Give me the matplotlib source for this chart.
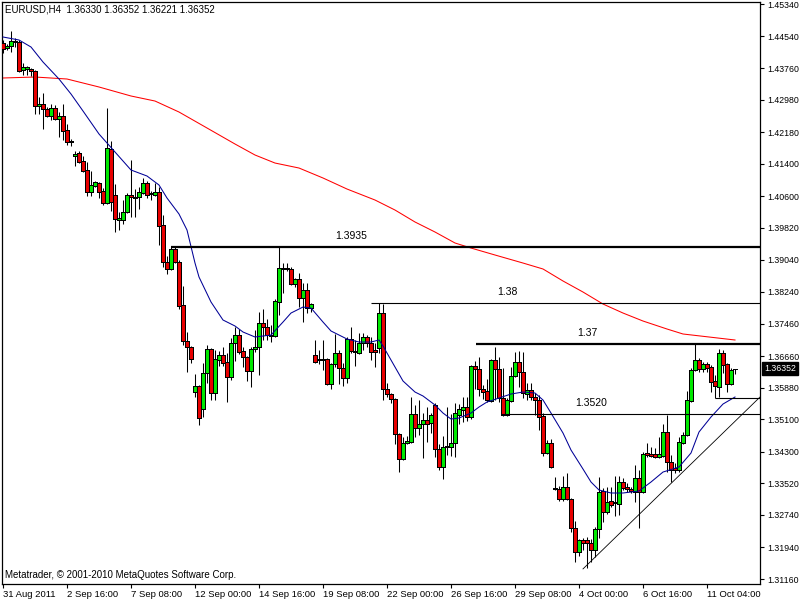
import matplotlib.pyplot as plt
import numpy as np

plt.rcParams['font.family'] = ['Liberation Sans', 'DejaVu Sans']

# EURUSD H4, 31 Aug 2011 .. 11 Oct 2011, one value per candle
opens = [1.4438, 1.4425, 1.4430, 1.4443, 1.4440, 1.4372, 1.4374, 1.4374, 1.4369, 1.4283,
         1.4288, 1.4275, 1.4257, 1.4278, 1.4251, 1.4257, 1.4224, 1.4196, 1.4159, 1.4167,
         1.4147, 1.4124, 1.4071, 1.4086, 1.4093, 1.4073, 1.4043, 1.4177, 1.4063, 1.4002,
         1.4002, 1.4021, 1.4063, 1.4058, 1.4058, 1.4068, 1.4093, 1.4068, 1.4063, 1.4071,
         1.3989, 1.3897, 1.3880, 1.3930, 1.3897, 1.3792, 1.3703, 1.3688, 1.3577, 1.3591,
         1.3535, 1.3624, 1.3683, 1.3575, 1.3656, 1.3668, 1.3651, 1.3614, 1.3698, 1.3718,
         1.3678, 1.3663, 1.3629, 1.3683, 1.3688, 1.3747, 1.3737, 1.3715, 1.3715, 1.3799,
         1.3883, 1.3883, 1.3880, 1.3843, 1.3856, 1.3808, 1.3828, 1.3784, 1.3668, 1.3659,
         1.3656, 1.3659, 1.3596, 1.3646, 1.3673, 1.3636, 1.3611, 1.3708, 1.3678, 1.3673,
         1.3698, 1.3713, 1.3698, 1.3680, 1.3685, 1.3772, 1.3584, 1.3572, 1.3560, 1.3473,
         1.3412, 1.3451, 1.3454, 1.3522, 1.3489, 1.3498, 1.3507, 1.3501, 1.3545, 1.3436,
         1.3392, 1.3441, 1.3441, 1.3451, 1.3520, 1.3532, 1.3540, 1.3515, 1.3641, 1.3634,
         1.3584, 1.3579, 1.3555, 1.3656, 1.3634, 1.3562, 1.3520, 1.3555, 1.3616, 1.3651,
         1.3626, 1.3572, 1.3582, 1.3565, 1.3557, 1.3517, 1.3427, 1.3451, 1.3341, 1.3338,
         1.3313, 1.3343, 1.3313, 1.3241, 1.3183, 1.3212, 1.3212, 1.3205, 1.3188, 1.3239,
         1.3333, 1.3281, 1.3308, 1.3303, 1.3301, 1.3356, 1.3343, 1.3338, 1.3331, 1.3365,
         1.3331, 1.3427, 1.3425, 1.3425, 1.3417, 1.3420, 1.3478, 1.3405, 1.3390, 1.3385,
         1.3451, 1.3471, 1.3555, 1.3631, 1.3656, 1.3634, 1.3646, 1.3639, 1.3604, 1.3589,
         1.3673, 1.3646, 1.3596, 1.3633]
highs = [1.4445, 1.4435, 1.4468, 1.4450, 1.4445, 1.4389, 1.4381, 1.4377, 1.4372, 1.4305,
         1.4315, 1.4280, 1.4288, 1.4285, 1.4268, 1.4288, 1.4238, 1.4201, 1.4172, 1.4172,
         1.4159, 1.4144, 1.4122, 1.4098, 1.4096, 1.4081, 1.4278, 1.4197, 1.4091, 1.4021,
         1.4051, 1.4068, 1.4149, 1.4078, 1.4083, 1.4105, 1.4098, 1.4073, 1.4093, 1.4083,
         1.4014, 1.3912, 1.3934, 1.3935, 1.3902, 1.3838, 1.3725, 1.3690, 1.3621, 1.3594,
         1.3649, 1.3693, 1.3685, 1.3680, 1.3678, 1.3688, 1.3673, 1.3710, 1.3737, 1.3732,
         1.3688, 1.3666, 1.3688, 1.3730, 1.3774, 1.3782, 1.3757, 1.3742, 1.3806, 1.3935,
         1.3895, 1.3895, 1.3885, 1.3858, 1.3871, 1.3846, 1.3846, 1.3797, 1.3705, 1.3680,
         1.3705, 1.3661, 1.3649, 1.3720, 1.3680, 1.3649, 1.3713, 1.3737, 1.3705, 1.3723,
         1.3723, 1.3718, 1.3713, 1.3698, 1.3797, 1.3794, 1.3599, 1.3575, 1.3562, 1.3476,
         1.3466, 1.3468, 1.3565, 1.3545, 1.3557, 1.3525, 1.3540, 1.3525, 1.3550, 1.3449,
         1.3468, 1.3540, 1.3522, 1.3550, 1.3547, 1.3565, 1.3565, 1.3644, 1.3654, 1.3663,
         1.3594, 1.3609, 1.3659, 1.3688, 1.3663, 1.3636, 1.3562, 1.3639, 1.3675, 1.3678,
         1.3675, 1.3599, 1.3599, 1.3575, 1.3570, 1.3525, 1.3458, 1.3461, 1.3367, 1.3346,
         1.3370, 1.3377, 1.3315, 1.3259, 1.3215, 1.3217, 1.3220, 1.3215, 1.3244, 1.3367,
         1.3341, 1.3343, 1.3343, 1.3370, 1.3370, 1.3365, 1.3353, 1.3343, 1.3397, 1.3385,
         1.3430, 1.3451, 1.3441, 1.3439, 1.3466, 1.3498, 1.3520, 1.3422, 1.3402, 1.3466,
         1.3478, 1.3580, 1.3636, 1.3696, 1.3661, 1.3651, 1.3651, 1.3644, 1.3619, 1.3683,
         1.3680, 1.3649, 1.3636, 1.36352]
lows = [1.4413, 1.4420, 1.4415, 1.4428, 1.4367, 1.4359, 1.4359, 1.4357, 1.4263, 1.4263,
        1.4226, 1.4255, 1.4249, 1.4249, 1.4206, 1.4199, 1.4186, 1.4184, 1.4134, 1.4142,
        1.4119, 1.4061, 1.4061, 1.4083, 1.4056, 1.4038, 1.4041, 1.4024, 1.3972, 1.3977,
        1.3992, 1.4019, 1.4009, 1.4009, 1.4029, 1.4066, 1.4056, 1.4051, 1.4061, 1.3940,
        1.3885, 1.3868, 1.3877, 1.3895, 1.3782, 1.3693, 1.3626, 1.3649, 1.3565, 1.3496,
        1.3515, 1.3599, 1.3557, 1.3557, 1.3641, 1.3641, 1.3552, 1.3606, 1.3654, 1.3670,
        1.3639, 1.3604, 1.3589, 1.3675, 1.3619, 1.3705, 1.3705, 1.3700, 1.3713, 1.3767,
        1.3821, 1.3876, 1.3841, 1.3836, 1.3787, 1.3749, 1.3772, 1.3774, 1.3649, 1.3646,
        1.3631, 1.3594, 1.3584, 1.3639, 1.3596, 1.3591, 1.3599, 1.3673, 1.3641, 1.3670,
        1.3680, 1.3688, 1.3656, 1.3639, 1.3673, 1.3557, 1.3565, 1.3550, 1.3449, 1.3380,
        1.3410, 1.3449, 1.3451, 1.3466, 1.3471, 1.3415, 1.3454, 1.3476, 1.3417, 1.3385,
        1.3362, 1.3422, 1.3420, 1.3417, 1.3498, 1.3503, 1.3505, 1.3510, 1.3584, 1.3567,
        1.3560, 1.3552, 1.3552, 1.3557, 1.3552, 1.3517, 1.3517, 1.3552, 1.3614, 1.3589,
        1.3562, 1.3557, 1.3557, 1.3520, 1.3484, 1.3420, 1.3425, 1.3390, 1.3336, 1.3308,
        1.3308, 1.3311, 1.3232, 1.3157, 1.3173, 1.3188, 1.3143, 1.3157, 1.3170, 1.3217,
        1.3257, 1.3276, 1.3293, 1.3271, 1.3274, 1.3336, 1.3331, 1.3328, 1.3306, 1.3241,
        1.3328, 1.3417, 1.3417, 1.3415, 1.3415, 1.3417, 1.3380, 1.3356, 1.3377, 1.3380,
        1.3449, 1.3468, 1.3552, 1.3629, 1.3626, 1.3626, 1.3626, 1.3577, 1.3562, 1.3565,
        1.3624, 1.3577, 1.3594, 1.36221]
closes = [1.4423, 1.4430, 1.4443, 1.4440, 1.4369, 1.4379, 1.4379, 1.4369, 1.4283, 1.4288,
          1.4275, 1.4257, 1.4278, 1.4251, 1.4257, 1.4221, 1.4194, 1.4194, 1.4164, 1.4144,
          1.4122, 1.4071, 1.4088, 1.4096, 1.4071, 1.4043, 1.4179, 1.4046, 1.4004, 1.4007,
          1.4021, 1.4063, 1.4058, 1.4056, 1.4071, 1.4093, 1.4063, 1.4066, 1.4071, 1.3987,
          1.3897, 1.3880, 1.3930, 1.3897, 1.3789, 1.3703, 1.3688, 1.3659, 1.3591, 1.3512,
          1.3624, 1.3683, 1.3575, 1.3659, 1.3668, 1.3649, 1.3614, 1.3698, 1.3718, 1.3675,
          1.3663, 1.3629, 1.3683, 1.3688, 1.3747, 1.3737, 1.3718, 1.3718, 1.3802, 1.3883,
          1.3880, 1.3880, 1.3843, 1.3856, 1.3808, 1.3828, 1.3784, 1.3794, 1.3651, 1.3656,
          1.3659, 1.3596, 1.3646, 1.3673, 1.3636, 1.3611, 1.3708, 1.3678, 1.3675, 1.3698,
          1.3713, 1.3698, 1.3675, 1.3675, 1.3772, 1.3584, 1.3572, 1.3560, 1.3473, 1.3412,
          1.3451, 1.3456, 1.3522, 1.3489, 1.3498, 1.3507, 1.3498, 1.3520, 1.3436, 1.3392,
          1.3441, 1.3444, 1.3451, 1.3525, 1.3535, 1.3540, 1.3515, 1.3641, 1.3634, 1.3584,
          1.3577, 1.3557, 1.3656, 1.3634, 1.3562, 1.3520, 1.3557, 1.3616, 1.3651, 1.3626,
          1.3575, 1.3582, 1.3565, 1.3557, 1.3515, 1.3427, 1.3451, 1.3392, 1.3338, 1.3313,
          1.3343, 1.3313, 1.3241, 1.3183, 1.3212, 1.3205, 1.3205, 1.3188, 1.3239, 1.3331,
          1.3281, 1.3306, 1.3298, 1.3306, 1.3356, 1.3341, 1.3338, 1.3333, 1.3365, 1.3331,
          1.3425, 1.3422, 1.3420, 1.3417, 1.3425, 1.3478, 1.3405, 1.3385, 1.3385, 1.3454,
          1.3471, 1.3557, 1.3631, 1.3656, 1.3634, 1.3646, 1.3636, 1.3601, 1.3591, 1.3673,
          1.3644, 1.3596, 1.3631, 1.36352]

# moving averages (candle index, price)
fast_ma_idx = [0, 4, 7, 10, 14, 17, 20, 24, 26, 28, 32, 36, 39, 41, 44, 46, 48, 49, 52, 55,
               58, 60, 63, 65, 67, 70, 72, 75, 77, 80, 82, 86, 89, 92, 94, 95, 98, 100, 103, 105,
               108, 110, 112, 114, 117, 119, 121, 124, 127, 130, 133, 135, 137, 140, 142, 145, 147, 149, 152, 155,
               159, 162, 165, 169, 172, 174, 177, 180, 183]
fast_ma = [1.44527, 1.44453, 1.44280, 1.43910, 1.43491, 1.43121, 1.42702, 1.42135, 1.41913, 1.41691,
           1.41247, 1.41099, 1.40877, 1.40556, 1.40162, 1.39767, 1.38953, 1.38608, 1.37992, 1.37548,
           1.37400, 1.37252, 1.37129, 1.37153, 1.37178, 1.37498, 1.37720, 1.37868, 1.37844, 1.37498,
           1.37277, 1.37079, 1.37005, 1.37005, 1.37055, 1.36907, 1.36389, 1.36044, 1.35772, 1.35674,
           1.35452, 1.35254, 1.35106, 1.35131, 1.35254, 1.35402, 1.35526, 1.35624, 1.35723, 1.35772,
           1.35748, 1.35575, 1.35254, 1.34761, 1.34342, 1.33873, 1.33553, 1.33356, 1.33282, 1.33282,
           1.33331, 1.33553, 1.33799, 1.33923, 1.34268, 1.34786, 1.35156, 1.35476, 1.35649]
slow_ma_idx = [0, 8, 16, 24, 32, 38, 44, 51, 58, 63, 68, 74, 80, 86, 93, 98, 103, 108, 113, 117,
               123, 130, 135, 140, 145, 150, 155, 160, 166, 170, 183]
slow_ma = [1.43516, 1.43540, 1.43491, 1.43294, 1.43072, 1.42948, 1.42677, 1.42283, 1.41888, 1.41617,
           1.41419, 1.41296, 1.41050, 1.40778, 1.40507, 1.40260, 1.39965, 1.39718, 1.39447, 1.39323,
           1.39151, 1.38953, 1.38806, 1.38510, 1.38238, 1.37942, 1.37720, 1.37523, 1.37326, 1.37203,
           1.37055]

# drawn objects
level_prices = [1.3934, 1.3797, 1.3696, 1.3523]
level_start = [42, 92, 118.2, 124.6]
level_labels = ['1.3935', '1.38', '1.37', '1.3520']
level_label_idx = [87, 126, 146, 147]
level_thick = [True, False, True, False]
box_start, box_price = 178, 1.3562
trend_idx = [145, 190]
trend_price = [1.3141, 1.3572]

price_ticks = [1.45340, 1.44540, 1.43760, 1.42980, 1.42180, 1.41400, 1.40600, 1.39820, 1.39040,
               1.38240, 1.37460, 1.36660, 1.35880, 1.35100, 1.34300, 1.33520, 1.32740, 1.31940, 1.31160]
time_tick_idx = [0, 16, 32, 48, 64, 80, 96, 112, 128, 144, 160, 176]
time_labels = ['31 Aug 2011', '2 Sep 16:00', '7 Sep 08:00', '12 Sep 00:00', '14 Sep 16:00',
               '19 Sep 08:00', '22 Sep 00:00', '26 Sep 16:00', '29 Sep 08:00', '4 Oct 00:00',
               '6 Oct 16:00', '11 Oct 04:00']
last_price = 1.36352

fig = plt.figure(figsize=(8, 6), dpi=100)
ax = fig.add_axes([2 / 800, 16 / 600, 758 / 800, 582 / 600])

x = np.arange(len(opens))
o = np.array(opens)
c = np.array(closes)
up = c >= o
ax.vlines(x, lows, highs, color='black', linewidth=0.75, zorder=3)
body_low = np.minimum(o, c)
body_h = np.maximum(np.abs(c - o), 0.00003)
cols = np.where(up, '#00e800', '#e80000')
ax.bar(x, body_h, bottom=body_low, width=0.8, color=cols, edgecolor='black',
       linewidth=0.5, antialiased=False, zorder=4)

ax.plot(slow_ma_idx, slow_ma, color='#ff0000', linewidth=0.75, zorder=2)
ax.plot(fast_ma_idx, fast_ma, color='#000096', linewidth=0.75, zorder=5)

for p, s, lab, li, thick in zip(level_prices, level_start, level_labels, level_label_idx, level_thick):
    ax.hlines(p, s, 200, color='black', linewidth=1.6 if thick else 0.8, zorder=6)
    ax.annotate(lab, (li, p), xytext=(0, 6), textcoords='offset pixels',
                ha='center', va='bottom', fontsize=7.5)
ax.hlines(box_price, box_start, 200, color='black', linewidth=0.8, zorder=6)
ax.plot(trend_idx, trend_price, color='black', linewidth=0.6, zorder=6)

ax.set_xlim(-0.25, 189.25)
ax.set_ylim(1.31038, 1.45390)

ax.yaxis.tick_right()
ax.set_yticks(price_ticks)
ax.set_yticklabels(['%.5f' % v for v in price_ticks])
ax.set_xticks(time_tick_idx)
ax.set_xticklabels(time_labels, ha='left')
ax.tick_params(axis='y', direction='out', length=3, width=0.8, pad=2, labelsize=6.3)
ax.tick_params(axis='x', direction='out', length=3, width=0.8, pad=1, labelsize=6.8)
for sp in ax.spines.values():
    sp.set_linewidth(0.9)

ax.annotate('%.5f' % last_price, xy=(1, last_price), xycoords=('axes fraction', 'data'),
            xytext=(4, 0), textcoords='offset pixels', ha='left', va='center',
            fontsize=6.3, color='white',
            bbox=dict(boxstyle='square,pad=0.2', fc='black', ec='black'), annotation_clip=False)

fig.text(5 / 800, 1 - 10 / 600, 'EURUSD,H4  1.36330 1.36352 1.36221 1.36352',
         fontsize=7, va='center', ha='left')
fig.text(5 / 800, 1 - 575 / 600, 'Metatrader, \u00a9 2001-2010 MetaQuotes Software Corp.',
         fontsize=7, va='center', ha='left')

fig.savefig('out.png', dpi=100)
